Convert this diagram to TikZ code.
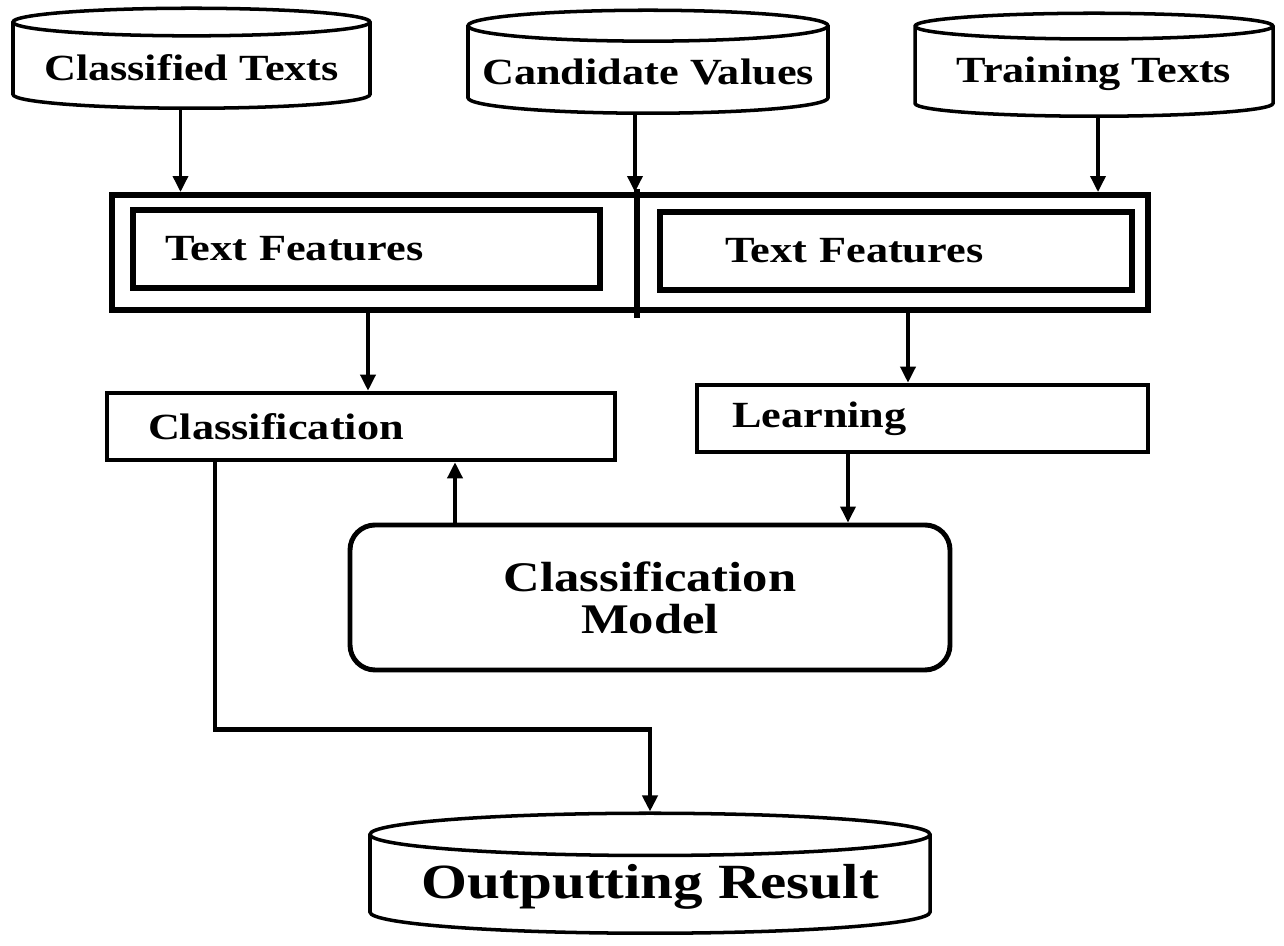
\documentclass[tikz,border=0pt]{standalone}
\usepackage{fontspec}
\setmainfont{Liberation Serif}[FakeStretch=1.2]
\usepackage{tikz}
\usetikzlibrary{shapes.geometric,arrows.meta,positioning,calc}

\begin{document}
\begin{tikzpicture}[
    store/.style={cylinder, shape border rotate=90, draw, line width=2pt,
                  aspect=0.09, anchor=south, font=\fontsize{21}{24}\selectfont\bfseries},
    featbox/.style={draw, line width=3pt, minimum height=1.56cm, align=left,
                    font=\fontsize{21}{24}\selectfont\bfseries},
    stagebox/.style={draw, line width=2.6pt, minimum height=1.34cm, align=left,
                     font=\fontsize{21}{24}\selectfont\bfseries},
    arr/.style={-{Triangle[length=0.32cm,width=0.3cm]}, line width=2pt}
  ]
  \useasboundingbox (0,0) rectangle (25.68,-18.92);

  % Data stores
  \node[store, minimum width=7.14cm, minimum height=2cm] (clst) at (3.83,-2.2) {Classified Texts};
  \node[store, minimum width=7.2cm, minimum height=2.06cm] (cand) at (12.96,-2.3) {Candidate Values};
  \node[store, minimum width=7.16cm, minimum height=2.06cm] (trn) at (21.88,-2.36) {Training Texts};

  % Feature extraction
  \node[draw, line width=3.4pt, minimum width=20.72cm, minimum height=2.3cm] (feat) at (12.6,-5.05) {};
  \draw[line width=3.4pt] ([xshift=0.14cm,yshift=0.06cm]feat.north) -- ([xshift=0.14cm,yshift=-0.1cm]feat.south);
  \node[featbox, text width=8.06cm, inner xsep=0.64cm] (featl) at (7.33,-4.98) {Text Features};
  \node[featbox, text width=6.84cm, inner xsep=1.3cm] (featr) at (17.92,-5.02) {Text Features};

  % Stages
  \node[stagebox, text width=8.52cm, inner xsep=0.82cm] (cls) at (7.22,-8.53) {Classification};
  \node[stagebox, text width=7.62cm, inner xsep=0.7cm] (lrn) at (18.45,-8.37) {Learning};
  \node[draw, line width=2.8pt, rounded corners=0.5cm, minimum width=12cm, minimum height=2.9cm,
        align=center, font=\fontsize{24}{24}\selectfont\bfseries]
    (model) at (13,-11.95) {Classification\\Model};

  % Result
  \node[store, minimum width=11.2cm, minimum height=2.4cm, font=\fontsize{28}{32}\selectfont\bfseries]
    (out) at (13,-18.7) {Outputting Result};

  % Connectors
  \coordinate (c1) at ($(clst.south)+(-0.22,0)$);
  \coordinate (c2) at ($(cand.south)+(-0.26,0)$);
  \coordinate (c3) at ($(trn.south)+(0.08,0)$);
  \coordinate (c4) at ($(cls.north)+(0.14,0)$);
  \coordinate (c5) at ($(lrn.north)+(-0.29,0)$);
  \coordinate (c6) at ($(model.north)+(-3.9,0)$);
  \coordinate (c7) at ($(lrn.south)+(-1.49,0)$);
  \coordinate (c8) at ($(cls.south)+(-2.92,0)$);
  \coordinate (c9) at ($(out.north)+(0,1.64)$);

  \draw[arr] (c1) -- (c1 |- feat.north);
  \draw[arr] (c2) -- (c2 |- feat.north);
  \draw[arr] (c3) -- (c3 |- feat.north);
  \draw[arr] (c4 |- feat.south) -- (c4);
  \draw[arr] (c5 |- feat.south) -- (c5);
  \draw[arr] (c6) -- (c6 |- cls.south);
  \draw[arr] (c7) -- (c7 |- model.north);
  \draw[arr, line width=2.6pt] (c8) |- (c9) -- (out.north);
\end{tikzpicture}
\end{document}
